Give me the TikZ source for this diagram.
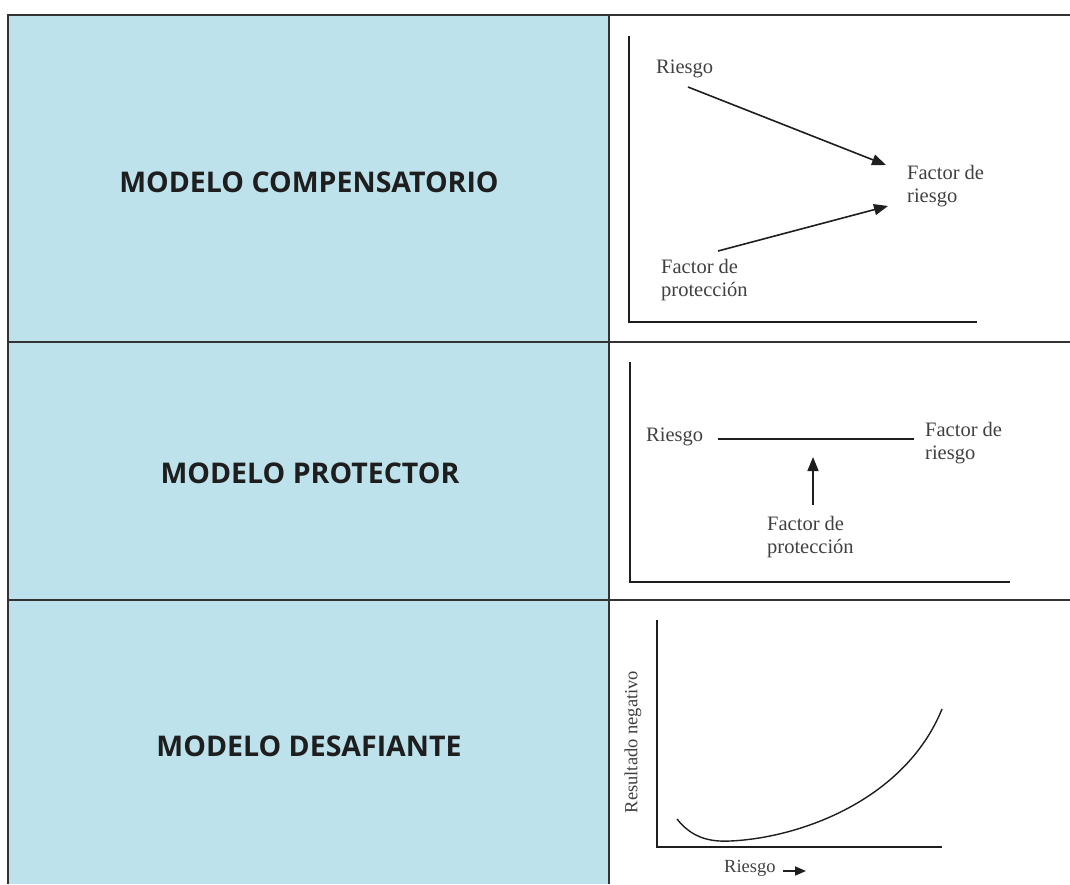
\documentclass[tikz,border=0pt]{standalone}
\usepackage{fontspec}
\setmainfont{Liberation Serif}
\newfontfamily\labelfont{Open Sans}
\usetikzlibrary{arrows.meta}
\definecolor{cellblue}{HTML}{BDE2EC}
\definecolor{gridline}{HTML}{333333}
\definecolor{ink}{HTML}{1E1E1E}
\tikzset{
  grid/.style={draw=gridline, line width=1.5pt},
  axis/.style={draw=ink, line width=2.6pt},
  conn/.style={draw=ink, line width=1.6pt},
  arr/.style={conn, -{Triangle[length=14pt,width=11pt]}},
  modelname/.style={font=\labelfont\bfseries\fontsize{28.5}{32}\selectfont, text=ink, inner sep=0pt},
  chartlbl/.style={font=\fontsize{20.5}{23}\selectfont, text=ink!85, inner sep=0pt, align=left, anchor=west},
}
\begin{document}
\begin{tikzpicture}[x=1pt,y=-1pt]
\useasboundingbox (0,0) rectangle (1070,884);
% cells
\fill[cellblue] (8,15) rectangle (609,884);
\draw[grid] (1070,15) -- (8,15) -- (8,884);
\draw[grid] (609,15) -- (609,884);
\draw[grid] (8,342) -- (1070,342);
\draw[grid] (8,600) -- (1070,600);
% model names
\node[modelname] (m1) at (309,182) {MODELO COMPENSATORIO};
\node[modelname] (m2) at (310,473) {MODELO PROTECTOR};
\node[modelname] (m3) at (309,746) {MODELO DESAFIANTE};
% ---- panel 1
\coordinate (o1) at (629,322);
\coordinate (y1) at (629,37);
\coordinate (x1) at (976,322);
\draw[axis, line cap=rect] (y1) -- (o1) -- (x1);
\node[chartlbl] (r1) at (656,69) {Riesgo};
\node[chartlbl] (fr1) at (907,186) {Factor de\\riesgo};
\node[chartlbl] (fp1) at (661,280) {Factor de\\protección};
\coordinate (a1s) at (688,87);
\coordinate (a1e) at (886,165);
\coordinate (a2s) at (718,251);
\coordinate (a2e) at (888,206);
\draw[arr] (a1s) -- (a1e);
\draw[arr] (a2s) -- (a2e);
% ---- panel 2
\coordinate (o2) at (630,582);
\coordinate (y2) at (630,363);
\coordinate (x2) at (1009,582);
\draw[axis, line cap=rect] (y2) -- (o2) -- (x2);
\node[chartlbl] (r2) at (646,437) {Riesgo};
\node[chartlbl] (fr2) at (925,443) {Factor de\\riesgo};
\node[chartlbl] (fp2) at (767,537) {Factor de\\protección};
\coordinate (l2s) at (718,439);
\coordinate (l2e) at (914,439);
\draw[conn, line width=2.2pt] (l2s) -- (l2e);
\coordinate (u2s) at (813,505);
\coordinate (u2e) at (813,457);
\draw[arr] (u2s) -- (u2e);
% ---- panel 3
\coordinate (o3) at (657,847);
\coordinate (y3) at (657,621);
\coordinate (x3) at (941,847);
\draw[axis, line cap=rect] (y3) -- (o3) -- (x3);
\node[chartlbl, font=\fontsize{18.5}{22}\selectfont, rotate=90, anchor=center] (rn) at (633,742) {Resultado negativo};
\node[chartlbl, font=\fontsize{18.5}{22}\selectfont] (r3) at (724,868) {Riesgo};
\coordinate (r3s) at (783,871);
\coordinate (r3e) at (806,871);
\draw[arr, -{Triangle[length=11pt,width=9pt]}] (r3s) -- (r3e);
\coordinate (c0) at (677,819);
\coordinate (cm) at (730,841);
\coordinate (c1) at (942,709);
\draw[conn, line width=1.4pt] (c0) .. controls (692,838) and (710,842) .. (cm)
  .. controls (800,838) and (905,800) .. (c1);
\end{tikzpicture}
\end{document}
